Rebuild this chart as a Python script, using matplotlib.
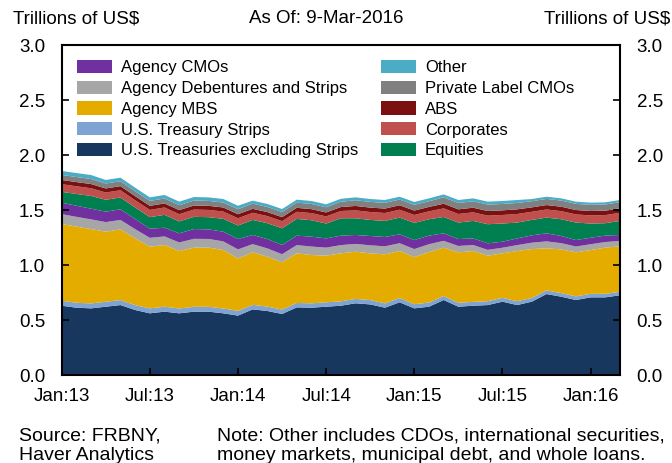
import matplotlib
matplotlib.use("Agg")
import matplotlib.pyplot as plt
import numpy as np
from matplotlib.patches import Patch

plt.rcParams['font.family'] = ['Liberation Sans', 'DejaVu Sans']

# Monthly observations, Jan 2013 .. Mar 2016 (trillions of US$)
months = ["2013-01", "2013-02", "2013-03", "2013-04", "2013-05", "2013-06", "2013-07", "2013-08",
          "2013-09", "2013-10", "2013-11", "2013-12", "2014-01", "2014-02", "2014-03", "2014-04",
          "2014-05", "2014-06", "2014-07", "2014-08", "2014-09", "2014-10", "2014-11", "2014-12",
          "2015-01", "2015-02", "2015-03", "2015-04", "2015-05", "2015-06", "2015-07", "2015-08",
          "2015-09", "2015-10", "2015-11", "2015-12", "2016-01", "2016-02", "2016-03"]

treasuries = [0.630, 0.612, 0.606, 0.621, 0.636, 0.591, 0.561, 0.576, 0.561, 0.576, 0.576, 0.561, 0.540,
              0.597, 0.582, 0.555, 0.615, 0.612, 0.621, 0.630, 0.652, 0.642, 0.612, 0.661, 0.606, 0.621,
              0.682, 0.621, 0.630, 0.636, 0.667, 0.636, 0.667, 0.736, 0.712, 0.682, 0.706, 0.706, 0.725]
strips = [0.045, 0.045, 0.045, 0.045, 0.045, 0.045, 0.045, 0.045, 0.044, 0.044, 0.044, 0.044, 0.043,
          0.041, 0.040, 0.040, 0.040, 0.040, 0.040, 0.040, 0.040, 0.040, 0.039, 0.039, 0.038, 0.038,
          0.036, 0.036, 0.035, 0.035, 0.035, 0.035, 0.034, 0.033, 0.033, 0.033, 0.032, 0.032, 0.032]
mbs = [0.698, 0.692, 0.676, 0.637, 0.643, 0.606, 0.561, 0.561, 0.522, 0.538, 0.538, 0.531, 0.477,
       0.477, 0.454, 0.429, 0.451, 0.439, 0.424, 0.436, 0.429, 0.424, 0.446, 0.427, 0.428, 0.458,
       0.440, 0.458, 0.462, 0.414, 0.404, 0.456, 0.444, 0.383, 0.397, 0.400, 0.398, 0.420, 0.413]
debentures = [0.090, 0.089, 0.088, 0.087, 0.086, 0.084, 0.080, 0.078, 0.078, 0.080, 0.079, 0.079, 0.082,
              0.075, 0.075, 0.074, 0.075, 0.077, 0.073, 0.075, 0.071, 0.073, 0.073, 0.071, 0.073, 0.072,
              0.062, 0.058, 0.055, 0.053, 0.051, 0.054, 0.058, 0.063, 0.057, 0.053, 0.053, 0.051, 0.049]
cmos = [0.104, 0.101, 0.097, 0.095, 0.096, 0.092, 0.083, 0.079, 0.083, 0.089, 0.087, 0.088, 0.094,
        0.083, 0.085, 0.084, 0.086, 0.090, 0.084, 0.086, 0.081, 0.085, 0.085, 0.081, 0.082, 0.078,
        0.068, 0.063, 0.060, 0.059, 0.055, 0.061, 0.067, 0.073, 0.065, 0.059, 0.059, 0.058, 0.054]
equities = [0.098, 0.107, 0.116, 0.108, 0.108, 0.105, 0.105, 0.117, 0.108, 0.111, 0.111, 0.117, 0.123,
            0.137, 0.144, 0.152, 0.152, 0.149, 0.135, 0.158, 0.152, 0.146, 0.146, 0.152, 0.156, 0.149,
            0.149, 0.150, 0.159, 0.174, 0.165, 0.144, 0.140, 0.143, 0.152, 0.159, 0.129, 0.113, 0.128]
corporates = [0.070, 0.070, 0.070, 0.066, 0.066, 0.066, 0.066, 0.067, 0.066, 0.066, 0.066, 0.066, 0.066,
              0.065, 0.065, 0.065, 0.065, 0.065, 0.065, 0.066, 0.072, 0.072, 0.072, 0.072, 0.072, 0.072,
              0.078, 0.078, 0.078, 0.078, 0.078, 0.078, 0.074, 0.074, 0.074, 0.074, 0.074, 0.074, 0.074]
abs_ = [0.038, 0.038, 0.038, 0.037, 0.037, 0.037, 0.037, 0.037, 0.037, 0.037, 0.037, 0.037, 0.037,
        0.036, 0.036, 0.036, 0.036, 0.036, 0.036, 0.036, 0.040, 0.040, 0.040, 0.040, 0.040, 0.040,
        0.042, 0.042, 0.042, 0.042, 0.042, 0.042, 0.040, 0.040, 0.040, 0.040, 0.040, 0.040, 0.040]
private_cmos = [0.046, 0.046, 0.046, 0.045, 0.045, 0.045, 0.045, 0.045, 0.045, 0.045, 0.045, 0.045, 0.045,
                0.047, 0.047, 0.047, 0.047, 0.047, 0.047, 0.048, 0.052, 0.052, 0.052, 0.052, 0.052, 0.052,
                0.058, 0.058, 0.058, 0.058, 0.058, 0.058, 0.056, 0.056, 0.056, 0.056, 0.056, 0.056, 0.056]
other = [0.036, 0.036, 0.036, 0.032, 0.032, 0.032, 0.032, 0.032, 0.032, 0.032, 0.032, 0.032, 0.032,
         0.027, 0.027, 0.027, 0.027, 0.027, 0.027, 0.027, 0.026, 0.026, 0.026, 0.026, 0.026, 0.026,
         0.027, 0.027, 0.027, 0.027, 0.027, 0.027, 0.020, 0.020, 0.020, 0.020, 0.020, 0.020, 0.020]

tick_labels = ["Jan:13", "Jul:13", "Jan:14", "Jul:14", "Jan:15", "Jul:15", "Jan:16"]
tick_months = ["2013-01", "2013-07", "2014-01", "2014-07", "2015-01", "2015-07", "2016-01"]

series = [
    ("U.S. Treasuries excluding Strips", treasuries, "#17375E"),
    ("U.S. Treasury Strips", strips, "#7FA3D3"),
    ("Agency MBS", mbs, "#E5AC00"),
    ("Agency Debentures and Strips", debentures, "#A6A6A6"),
    ("Agency CMOs", cmos, "#7030A0"),
    ("Equities", equities, "#007F50"),
    ("Corporates", corporates, "#C0504D"),
    ("ABS", abs_, "#7A1010"),
    ("Private Label CMOs", private_cmos, "#808080"),
    ("Other", other, "#4BACC6"),
]

x = np.arange(len(months))

fig = plt.figure(figsize=(6.72, 4.63), dpi=100)
ax = fig.add_axes([0.0918, 0.190, 0.8308, 0.7128])

ax.stackplot(x, *[s[1] for s in series], colors=[s[2] for s in series], linewidth=0)

FS = 13.5
ax.set_xlim(0, len(months) - 1)
ax.set_ylim(0, 3.0)
ax.set_yticks([0.0, 0.5, 1.0, 1.5, 2.0, 2.5, 3.0])
ax.set_yticklabels(["0.0", "0.5", "1.0", "1.5", "2.0", "2.5", "3.0"])
ax.set_xticks([months.index(m) for m in tick_months])
ax.set_xticklabels(tick_labels)
ax.tick_params(axis='both', direction='in', length=5, width=1.2, labelsize=FS,
               colors='black')
ax.tick_params(axis='y', right=True, labelright=True, pad=12)
ax.tick_params(axis='x', pad=9)
for sp in ax.spines.values():
    sp.set_linewidth(1.5)
    sp.set_color('black')

fig.text(0.019, 0.960, "Trillions of US$", fontsize=FS, ha='left', va='center')
fig.text(0.485, 0.960, "As Of: 9-Mar-2016", fontsize=FS, ha='center', va='center')
fig.text(0.998, 0.960, "Trillions of US$", fontsize=FS, ha='right', va='center')

fig.text(0.028, 0.037, "Source: FRBNY,\nHaver Analytics", fontsize=14, ha='left', va='center',
         linespacing=1.15)
fig.text(0.323, 0.037, "Note: Other includes CDOs, international securities,\nmoney markets, municipal debt, and whole loans.",
         fontsize=14, ha='left', va='center', linespacing=1.15)

order = ["Agency CMOs", "Agency Debentures and Strips", "Agency MBS", "U.S. Treasury Strips",
         "U.S. Treasuries excluding Strips", "Other", "Private Label CMOs", "ABS", "Corporates", "Equities"]
cmap = {s[0]: s[2] for s in series}
handles = [Patch(facecolor=cmap[n], edgecolor='none', label=n) for n in order]
ax.legend(handles=handles, ncol=2, loc='upper left', bbox_to_anchor=(0.009, 0.985),
          frameon=False, fontsize=12.0, handlelength=2.1, handleheight=0.85,
          columnspacing=1.35, handletextpad=0.55, labelspacing=0.32, borderaxespad=0.2)

fig.savefig("out.png", dpi=100)
